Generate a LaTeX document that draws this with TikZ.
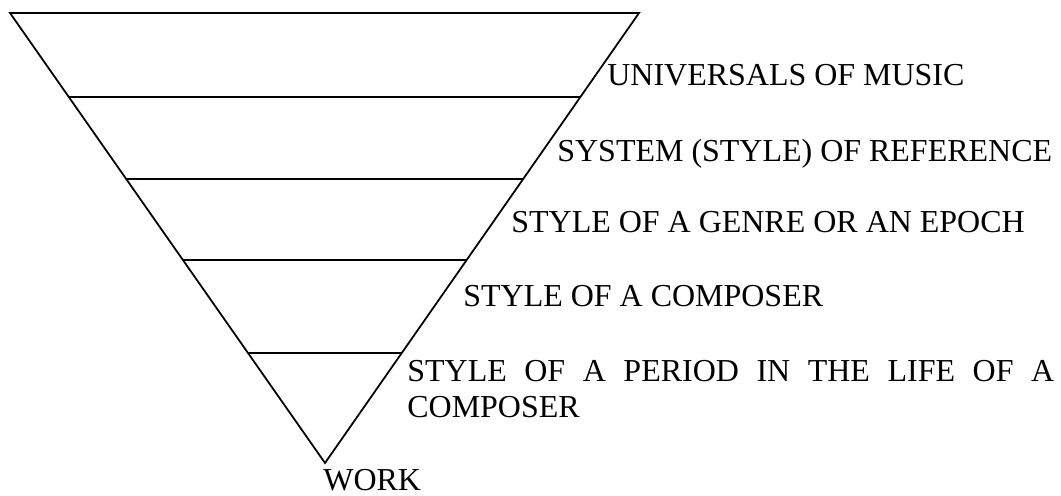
\documentclass[tikz,border=0pt]{standalone}
\usepackage{fontspec}
\setmainfont{Liberation Serif}
\usetikzlibrary{calc}
\hyphenpenalty=10000
\exhyphenpenalty=10000

\begin{document}
\begin{tikzpicture}[
    x=0.02cm, y=-0.02cm,
    edge/.style={line width=1pt, line cap=round},
    level/.style={anchor=base west, inner sep=0pt, font=\fontsize{18.2}{21}\selectfont}
]
\useasboundingbox (0,0) rectangle (1061,496);
% the inverted triangle
\coordinate (tl) at (10,13);
\coordinate (tr) at (639,13);
\coordinate (apex) at (325,463);
\draw[edge] (tl) -- (tr) -- (apex) -- cycle;
% dividing lines
\foreach \t in {0.187,0.369,0.549,0.756}
    \draw[edge] ($(tl)!\t!(apex)$) -- ($(tr)!\t!(apex)$);
% labels
\node[level] (universals) at (607,86) {UNIVERSALS OF MUSIC};
\node[level] (system) at (557,162) {SYSTEM (STYLE) OF REFERENCE};
\node[level] (genre) at (511,233) {STYLE OF A GENRE OR AN EPOCH};
\node[level] (composer) at (463,307) {STYLE OF A COMPOSER};
\node[level, text width=12.94cm, align=justify] (period) at (407,381)
    {STYLE OF A PERIOD IN THE LIFE OF A COMPOSER};
\node[level] (work) at (323,490) {WORK};
\end{tikzpicture}
\end{document}
